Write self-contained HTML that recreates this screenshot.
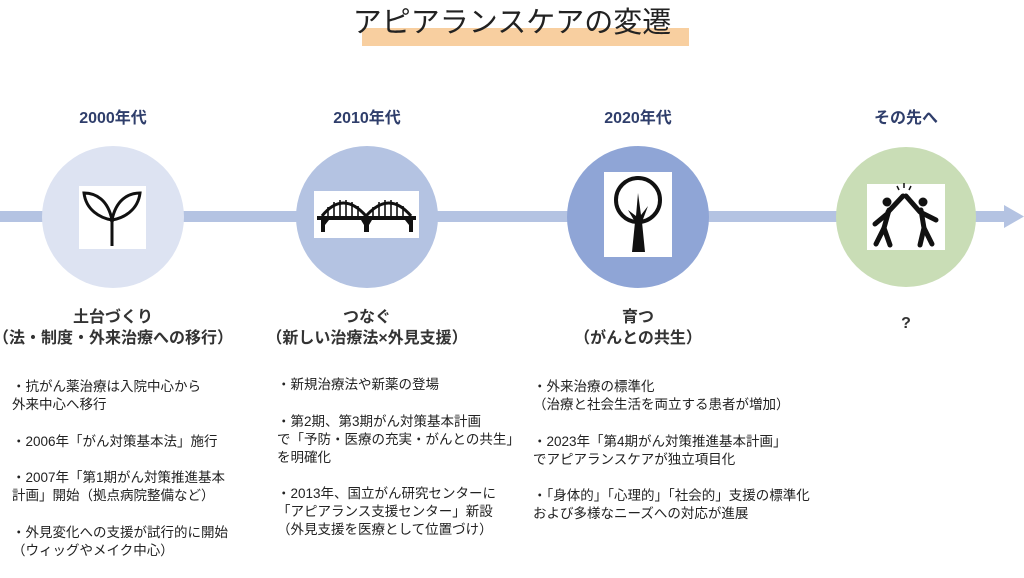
<!DOCTYPE html>
<html><head><meta charset="utf-8">
<style>
html,body{margin:0;padding:0;background:#fff;}
body{width:1024px;height:561px;position:relative;overflow:hidden;font-family:"Liberation Sans","Noto Sans CJK JP",sans-serif;}
.a{position:absolute;}
.yr{position:absolute;top:104px;width:200px;text-align:center;font-weight:bold;font-size:16px;color:#2f3e6b;}
.hd{position:absolute;top:307px;width:300px;text-align:center;font-weight:bold;font-size:16px;line-height:21px;color:#333;}
.bl{position:absolute;font-size:13.5px;line-height:18px;color:#222;white-space:nowrap;}
.bl p{margin:0 0 18.5px 0;}
</style></head><body>
<div class="a" style="left:362px;top:28px;width:327px;height:18px;background:#f8cfa0;"></div>
<div class="a" style="left:0;top:5px;width:1024px;text-align:center;font-size:29px;color:#222;line-height:36px;">アピアランスケアの変遷</div>

<svg class="a" style="left:0;top:0" width="1024" height="561">
<rect x="0" y="211" width="1008" height="11" fill="#b4c3e2"/>
<polygon points="1004,205 1024,216.5 1004,228" fill="#b4c3e2"/>
<circle cx="113" cy="217" r="71" fill="#dde3f2"/>
<circle cx="367" cy="217" r="71" fill="#b4c3e2"/>
<circle cx="638" cy="217" r="71" fill="#8fa5d6"/>
<circle cx="906" cy="217" r="70" fill="#c9ddb6"/>
<rect x="79" y="186" width="67" height="63" fill="#fff"/>
<rect x="314" y="191" width="105" height="47" fill="#fff"/>
<rect x="604" y="172" width="68" height="85" fill="#fff"/>
<rect x="867" y="184" width="78" height="66" fill="#fff"/>
<g fill="none" stroke="#111" stroke-width="3">
<line x1="112" y1="220" x2="112" y2="246"/>
<path d="M112,220 C100,218 86,210 84,193 C96,193 108,200 112,220 Z"/>
<path d="M112,220 C124,218 138,210 140,193 C128,193 116,200 112,220 Z"/>
</g>
<g fill="none" stroke="#111" stroke-width="3">
<path d="M322,216 Q343,190 366,216"/><path d="M366,216 Q389,190 411,216"/>
</g>
<g stroke="#111" stroke-width="1.6">
<line x1="328" y1="207" x2="328" y2="216"/><line x1="334" y1="202" x2="334" y2="216"/><line x1="340" y1="200" x2="340" y2="216"/><line x1="346" y1="200" x2="346" y2="216"/><line x1="352" y1="202" x2="352" y2="216"/><line x1="358" y1="206" x2="358" y2="216"/>
<line x1="373" y1="207" x2="373" y2="216"/><line x1="379" y1="202" x2="379" y2="216"/><line x1="385" y1="200" x2="385" y2="216"/><line x1="391" y1="200" x2="391" y2="216"/><line x1="397" y1="202" x2="397" y2="216"/><line x1="403" y1="206" x2="403" y2="216"/>
</g>
<rect x="317" y="216" width="99" height="4" fill="#111"/>
<path d="M321,220 h8 l-4,5 v7 h-4z M361,220 h11 l-3,5 v7 h-5 v-7z M405,220 h8 v12 h-4 v-7z" fill="#111"/>
<circle cx="638" cy="200" r="22" fill="none" stroke="#111" stroke-width="4"/>
<path d="M632,252 L635,222 L628,210 L636,216 L638,193 L641,215 L648,206 L642,222 L645,252 Z" fill="#111"/>
<g fill="#111" stroke="#111">
<circle cx="887" cy="202" r="4.5" stroke="none"/>
<circle cx="923" cy="202" r="4.5" stroke="none"/>
<g stroke-width="5" stroke-linecap="round" fill="none">
<path d="M889,210 L884,228 L876,244"/><path d="M884,228 L890,245"/>
<path d="M888,212 L903,196"/><path d="M887,214 L875,224"/>
<path d="M921,210 L924,228 L920,245"/><path d="M924,228 L932,244"/>
<path d="M920,212 L906,196"/><path d="M922,213 L936,220"/>
</g>
<g stroke-width="1.5"><line x1="899" y1="190" x2="897" y2="186"/><line x1="904" y1="188" x2="904" y2="183"/><line x1="909" y1="190" x2="911" y2="186"/></g>
</g>
</svg>

<div class="yr" style="left:13px">2000年代</div>
<div class="yr" style="left:267px">2010年代</div>
<div class="yr" style="left:538px">2020年代</div>
<div class="yr" style="left:806px">その先へ</div>

<div class="hd" style="left:-37px">土台づくり<br>（法・制度・外来治療への移行）</div>
<div class="hd" style="left:217px">つなぐ<br>（新しい治療法×外見支援）</div>
<div class="hd" style="left:488px">育つ<br>（がんとの共生）</div>
<div class="hd" style="left:756px;top:313px">?</div>

<div class="bl" style="left:12px;top:378px">
<p>・抗がん薬治療は入院中心から<br>外来中心へ移行</p>
<p>・2006年「がん対策基本法」施行</p>
<p>・2007年「第1期がん対策推進基本<br>計画」開始（拠点病院整備など）</p>
<p>・外見変化への支援が試行的に開始<br>（ウィッグやメイク中心）</p>
</div>
<div class="bl" style="left:277px;top:376px">
<p>・新規治療法や新薬の登場</p>
<p>・第2期、第3期がん対策基本計画<br>で「予防・医療の充実・がんとの共生」<br>を明確化</p>
<p>・2013年、国立がん研究センターに<br>「アピアランス支援センター」新設<br>（外見支援を医療として位置づけ）</p>
</div>
<div class="bl" style="left:533px;top:378px">
<p>・外来治療の標準化<br>（治療と社会生活を両立する患者が増加）</p>
<p>・2023年「第4期がん対策推進基本計画」<br>でアピアランスケアが独立項目化</p>
<p>・「身体的」「心理的」「社会的」支援の標準化<br>および多様なニーズへの対応が進展</p>
</div>
</body></html>
